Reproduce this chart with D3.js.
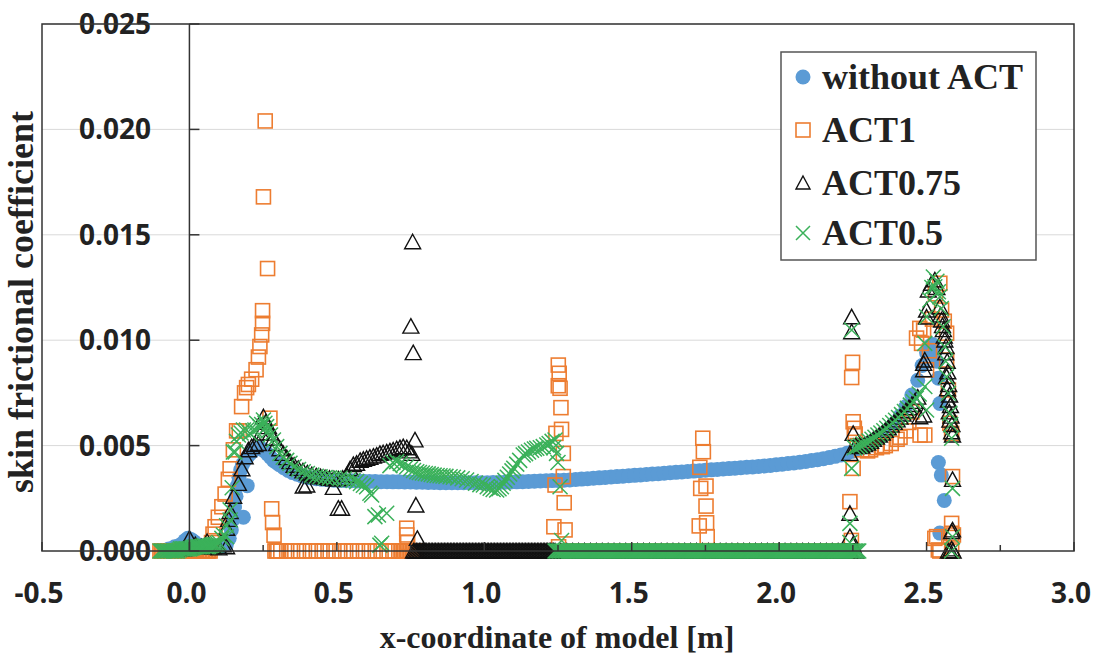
<!DOCTYPE html>
<html>
<head>
<meta charset="utf-8">
<script src="https://cdn.jsdelivr.net/npm/d3@7"></script>
<style>
  body { margin: 0; background: #fff; }
  .tick-label { font-family: 'Open Sans', sans-serif; font-weight: 700; font-size: 28px; fill: #222; }
  .axis-title { font-family: 'Liberation Serif', 'Times New Roman', serif; font-weight: 700; fill: #222; }
  .legend text { font-family: 'Liberation Serif', 'Times New Roman', serif; font-weight: 700; font-size: 36px; fill: #222; }
</style>
</head>
<body>
<div id="chart"></div>
<script>
// values: [x-coordinate (m), skin frictional coefficient x 1e-3]
// the *ZeroX lists hold the x positions where a series sits on 0
var seriesNames = ['without ACT', 'ACT1', 'ACT0.75', 'ACT0.5'];
var xTicks = [-0.5, 0.0, 0.5, 1.0, 1.5, 2.0, 2.5, 3.0];
var xMinorTicks = [0.25, 0.75, 1.25, 1.75, 2.25, 2.75];
var yTicks = [0, 0.005, 0.010, 0.015, 0.020, 0.025];

var noAct = [
  [-0.07,0.1],[-0.05,0.2],[-0.03,0.3],[-0.015,0.5],[-0.005,0.6],[0.005,0.55],[0.015,0.45],[0.03,0.3],
  [0.05,0.2],[0.07,0.15],[0.09,0.15],[0.11,0.2],[0.125,0.3],[0.135,0.6],[0.142,1.0],[0.148,1.5],
  [0.153,2.1],[0.158,2.6],[0.163,3.1],[0.168,3.5],[0.174,3.85],[0.18,4.1],[0.183,1.6],[0.196,3.1],
  [0.188,4.3],[0.196,4.45],[0.205,4.6],[0.215,4.75],[0.225,4.85],[0.235,4.9],[0.245,4.85],[0.255,4.75],
  [0.265,4.6],[0.275,4.45],[0.285,4.3],[0.295,4.2],[0.305,4.1],[0.32,3.95],[0.335,3.82],[0.35,3.72],
  [0.365,3.64],[0.38,3.57],[0.395,3.51],[0.41,3.47],[0.43,3.43],[0.45,3.4],[0.47,3.38],[0.49,3.36],
  [0.51,3.35],[0.53,3.34],[0.55,3.33],[0.57,3.32],[0.59,3.31],[0.61,3.3],[0.63,3.3],[0.65,3.29],
  [0.67,3.29],[0.69,3.28],[0.71,3.28],[0.73,3.27],[0.75,3.27],[0.77,3.26],[0.79,3.26],[0.81,3.25],
  [0.83,3.25],[0.85,3.24],[0.87,3.24],[0.89,3.24],[0.91,3.24],[0.93,3.24],[0.95,3.24],[0.97,3.24],
  [0.99,3.24],[1.01,3.24],[1.03,3.25],[1.05,3.25],[1.07,3.26],[1.09,3.27],[1.11,3.28],[1.13,3.29],
  [1.15,3.3],[1.17,3.31],[1.19,3.32],[1.21,3.33],[1.23,3.34],[1.25,3.35],[1.27,3.36],[1.29,3.37],
  [1.31,3.39],[1.33,3.41],[1.35,3.43],[1.37,3.45],[1.39,3.47],[1.41,3.49],[1.43,3.51],[1.45,3.53],
  [1.47,3.55],[1.49,3.57],[1.51,3.59],[1.53,3.61],[1.55,3.63],[1.57,3.65],[1.59,3.67],[1.61,3.69],
  [1.63,3.71],[1.65,3.73],[1.67,3.75],[1.69,3.77],[1.71,3.79],[1.73,3.81],[1.75,3.83],[1.77,3.85],
  [1.79,3.87],[1.81,3.89],[1.83,3.91],[1.85,3.93],[1.87,3.95],[1.89,3.97],[1.91,3.99],[1.93,4.01],
  [1.95,4.03],[1.97,4.06],[1.99,4.09],[2.01,4.12],[2.03,4.15],[2.05,4.18],[2.07,4.21],[2.09,4.25],
  [2.11,4.29],[2.13,4.33],[2.15,4.38],[2.17,4.43],[2.19,4.49],[2.21,4.56],[2.23,4.64],[2.25,4.73],
  [2.27,4.84],[2.29,4.97],[2.31,5.12],[2.33,5.3],[2.35,5.5],[2.37,5.75],[2.39,6.05],[2.41,6.4],
  [2.43,6.85],[2.45,7.4],[2.47,8.1],[2.485,8.8],[2.5,9.4],[2.51,9.7],[2.52,9.8],[2.53,9.5],
  [2.535,9.0],[2.54,8.2],[2.545,7.0],[2.54,4.2],[2.55,3.6],[2.56,2.4],[2.545,0.85]
];

var act1 = [
  [0.075,0.4],[0.08,0.8],[0.087,1.15],[0.098,1.6],[0.11,2.1],[0.121,2.7],[0.132,3.4],[0.138,3.9],
  [0.149,4.8],[0.16,5.7],[0.169,5.7],[0.177,6.85],[0.187,7.5],[0.194,7.75],[0.2,7.9],[0.211,8.15],
  [0.226,8.6],[0.234,9.2],[0.239,9.7],[0.245,10.25],[0.248,10.8],[0.248,11.4],[0.265,13.4],
  [0.251,16.8],[0.257,20.4],[0.273,6.3],[0.279,2.0],[0.282,1.35],[0.287,0.75],
  [0.737,1.08],[0.737,0.76],[0.74,0.4],
  [1.251,8.82],[1.254,8.43],[1.251,7.84],[1.257,7.72],[1.26,6.8],[1.262,5.77],[1.243,5.58],
  [1.268,4.63],[1.268,3.53],[1.24,3.13],[1.271,2.29],[1.236,1.15],[1.274,1.0],[1.252,0.2],
  [1.741,5.35],[1.743,4.71],[1.731,3.97],[1.752,3.08],[1.734,2.97],[1.752,2.13],[1.754,1.34],
  [1.729,1.19],[1.756,0.68],
  [2.249,8.95],[2.246,8.23],[2.251,6.13],[2.255,5.82],[2.258,5.55],[2.251,3.92],[2.24,2.34],[2.245,0.5],
  [2.265,5.0],[2.28,4.8],[2.3,4.75],[2.31,4.8],[2.33,4.9],[2.35,4.95],[2.36,5.0],[2.38,5.1],
  [2.4,5.3],[2.41,5.4],[2.43,5.7],[2.44,6.1],[2.45,6.6],
  [2.466,10.1],[2.477,10.56],[2.483,9.85],[2.49,10.48],[2.478,5.5],[2.494,5.5],[2.5,8.6],
  [2.51,9.5],[2.52,11.0],[2.53,12.2],[2.545,12.7],[2.551,11.43],[2.56,10.9],[2.568,10.33],
  [2.568,9.06],[2.574,7.64],[2.579,6.06],[2.585,5.58],[2.588,3.53],[2.585,1.31],[2.591,0.76],
  [2.585,0.84],[2.534,0.68],[2.528,0.6],[2.54,0.05]
];
var act1ZeroX = [
  -0.1,-0.095,-0.09,-0.085,-0.08,-0.075,-0.07,-0.065,-0.06,-0.055,-0.05,-0.045,-0.04,-0.035,
  -0.03,-0.025,-0.02,-0.015,-0.01,-0.005,0,0.005,0.01,0.015,0.02,0.025,0.03,0.035,0.04,0.045,
  0.05,0.055,0.06,0.065,0.07,
  0.29,0.295,0.3,0.31,0.33,0.35,0.37,0.39,0.41,0.43,0.45,0.47,0.49,0.51,0.53,0.55,0.57,0.59,
  0.61,0.63,0.65,0.67,0.69,0.71,0.72,0.725,0.73,0.735,0.74,0.745,0.75,0.755,0.76,0.765,0.77,
  1.28,1.32,1.36,1.4,1.44,1.48,1.52,1.56,1.6,1.64,1.68,1.72,1.76,1.8,1.84,1.88,1.92,1.96,
  2.0,2.04,2.08,2.12,2.16,2.2,2.24,2.545,2.585
];

var act075 = [
  [-0.02,0.1],[0.0,0.6],[0.02,0.3],[0.04,0.2],[0.06,0.45],[0.08,0.2],[0.1,0.15],[0.115,0.3],
  [0.126,0.2],[0.126,1.08],[0.133,1.5],[0.138,1.87],[0.15,2.6],[0.166,3.21],[0.178,3.9],[0.189,4.47],
  [0.2,4.8],[0.211,4.95],[0.222,5.05],[0.234,5.1],[0.243,5.6],[0.251,6.37],[0.258,6.1],[0.268,5.9],
  [0.275,5.6],[0.285,5.35],[0.296,5.1],[0.307,4.85],[0.318,4.63],[0.33,4.43],[0.341,4.24],[0.355,4.07],
  [0.369,3.92],[0.385,3.8],[0.4,3.7],[0.415,3.62],[0.43,3.56],[0.445,3.52],[0.46,3.48],[0.475,3.45],
  [0.49,3.43],[0.505,3.42],[0.52,3.45],[0.533,3.6],[0.545,3.9],[0.556,4.1],[0.567,4.16],[0.579,4.3],
  [0.59,4.35],[0.601,4.4],[0.612,4.45],[0.624,4.5],[0.635,4.55],[0.646,4.63],[0.657,4.66],[0.669,4.7],
  [0.68,4.75],[0.691,4.79],[0.703,4.85],[0.714,4.9],[0.725,4.95],[0.737,4.9],[0.745,4.75],[0.754,4.63],
  [0.386,3.08],[0.398,3.13],[0.488,3.02],[0.505,2.03],[0.516,2.03],[0.757,14.67],[0.751,10.67],
  [0.759,9.41],[0.765,5.27],[0.768,2.18],[0.773,0.6],
  [2.246,11.11],[2.246,10.4],[2.251,5.58],[2.24,4.63],[2.24,1.79],[2.24,0.68],[2.25,0.3],
  [2.26,5.0],[2.27,4.95],[2.28,4.98],[2.29,5.05],[2.3,5.12],[2.31,5.2],[2.32,5.3],[2.33,5.4],
  [2.34,5.5],[2.35,5.6],[2.36,5.72],[2.37,5.85],[2.38,5.98],[2.39,6.1],[2.4,6.22],[2.41,6.35],
  [2.42,6.5],[2.43,6.65],[2.44,6.8],[2.45,6.95],[2.46,7.1],[2.47,7.3],
  [2.477,6.37],[2.49,6.45],[2.49,8.6],[2.49,8.9],[2.494,9.06],[2.5,11.1],[2.5,11.43],[2.506,12.38],
  [2.517,12.7],[2.528,12.86],[2.535,12.5],[2.545,11.59],[2.548,11.2],[2.551,10.96],[2.554,10.7],
  [2.557,10.5],[2.56,10.2],[2.562,10.01],[2.565,9.4],[2.566,9.7],[2.568,8.27],[2.57,9.0],[2.571,7.7],
  [2.572,8.5],[2.574,7.16],[2.575,7.9],[2.577,6.6],[2.578,7.4],[2.579,6.21],[2.581,6.9],[2.583,6.4],
  [2.585,5.66],[2.586,6.0],[2.588,5.5],[2.588,3.4],[2.585,0.92],[2.588,1.0],[2.585,0.1]
];
var act075ZeroX = [
  0.76,0.765,0.77,0.775,0.78,0.785,0.79,0.795,
  0.8,0.805,0.81,0.815,0.82,0.825,0.83,0.835,0.84,0.845,0.85,0.855,0.86,0.865,0.87,0.875,0.88,0.885,0.89,0.895,
  0.9,0.905,0.91,0.915,0.92,0.925,0.93,0.935,0.94,0.945,0.95,0.955,0.96,0.965,0.97,0.975,0.98,0.985,0.99,0.995,
  1.0,1.005,1.01,1.015,1.02,1.025,1.03,1.035,1.04,1.045,1.05,1.055,1.06,1.065,1.07,1.075,1.08,1.085,1.09,1.095,
  1.1,1.105,1.11,1.115,1.12,1.125,1.13,1.135,1.14,1.145,1.15,1.155,1.16,1.165,1.17,1.175,1.18,1.185,1.19,1.195,
  1.2,1.205,1.21,1.215,1.22,1.225,1.23,1.235,1.24,
  1.26,1.28,1.3,1.32,1.34,1.36,1.38,1.4,1.42,1.44,1.46,1.48,1.5,1.52,1.54,1.56,1.58,1.6,1.62,1.64,
  1.66,1.68,1.7,1.72,1.74,1.76,1.78,1.8,1.82,1.84,1.86,1.88,1.9,1.92,1.94,1.96,1.98,2.0,2.02,2.04,
  2.06,2.08,2.1,2.12,2.14,2.16,2.18,2.2,2.22,2.24,2.26,2.574,2.58,2.59
];

var act05 = [
  [-0.035,0.05],[-0.03,0.1],[-0.025,0.1],[-0.02,0.1],[-0.015,0.1],[-0.01,0.1],[-0.005,0.1],[0.0,0.1],
  [0.005,0.12],[0.01,0.15],[0.015,0.18],[0.02,0.2],[0.025,0.2],[0.03,0.2],[0.035,0.2],[0.04,0.2],
  [0.045,0.22],[0.05,0.25],[0.055,0.22],[0.06,0.2],[0.065,0.22],[0.07,0.25],[0.075,0.28],[0.08,0.3],
  [0.085,0.3],[0.09,0.3],[0.095,0.35],[0.1,0.4],
  [0.11,0.6],[0.115,0.76],[0.126,0.68],[0.126,1.2],
  [0.138,1.47],[0.138,1.95],[0.145,3.0],[0.149,4.7],[0.155,4.7],[0.16,5.2],[0.166,5.5],[0.175,5.6],
  [0.183,5.74],[0.194,5.74],[0.205,5.58],[0.215,5.7],[0.222,5.74],[0.228,6.06],[0.239,5.9],[0.245,6.0],
  [0.251,6.21],[0.256,6.06],[0.262,5.9],[0.268,5.7],[0.275,5.5],[0.285,5.27],[0.296,4.95],[0.307,4.63],
  [0.318,4.45],[0.33,4.3],[0.341,4.16],[0.355,4.0],[0.37,3.87],[0.386,3.76],[0.4,3.68],[0.415,3.6],
  [0.43,3.55],[0.443,3.52],[0.46,3.49],[0.475,3.47],[0.49,3.46],[0.511,3.45],[0.525,3.42],[0.54,3.38],
  [0.555,3.34],[0.567,3.29],[0.58,3.2],[0.59,3.12],[0.601,3.05],[0.612,2.74],[0.618,2.66],[0.629,1.63],
  [0.641,1.71],[0.669,1.79],[0.646,0.28],[0.652,0.37],
  [0.68,4.05],[0.69,4.2],[0.703,4.24],[0.715,4.15],[0.725,4.08],[0.737,4.0],[0.75,3.9],[0.76,3.82],
  [0.771,3.76],[0.78,3.72],[0.79,3.7],[0.8,3.68],[0.81,3.66],[0.82,3.63],[0.83,3.6],[0.84,3.58],
  [0.85,3.57],[0.86,3.56],[0.87,3.54],[0.884,3.52],[0.895,3.5],[0.91,3.47],[0.925,3.43],[0.94,3.37],
  [0.955,3.3],[0.97,3.22],[0.985,3.15],[0.997,3.13],[1.01,3.05],[1.02,2.98],[1.03,2.92],[1.042,2.89],
  [1.05,2.95],[1.058,3.05],[1.064,3.21],[1.07,3.35],[1.078,3.5],[1.086,3.65],[1.094,3.8],[1.1,3.93],
  [1.11,4.12],[1.12,4.3],[1.132,4.55],[1.14,4.62],[1.15,4.7],[1.16,4.78],[1.17,4.84],[1.178,4.87],
  [1.19,4.9],[1.2,4.95],[1.212,5.03],[1.22,5.1],[1.23,5.2],[1.24,5.27],[1.235,4.9],[1.245,4.63],
  [1.25,4.2],[1.257,3.05],[1.262,0.5],
  [2.246,10.48],[2.246,3.92],[2.24,1.31],[2.24,0.4],
  [2.255,4.9],[2.265,4.95],[2.275,5.0],[2.285,5.08],[2.295,5.15],[2.305,5.22],[2.315,5.3],[2.325,5.4],
  [2.335,5.5],[2.345,5.6],[2.355,5.7],[2.365,5.82],[2.375,5.95],[2.385,6.08],[2.395,6.2],[2.405,6.33],
  [2.415,6.47],[2.425,6.62],[2.435,6.77],[2.445,6.92],[2.455,7.08],[2.465,7.25],[2.475,7.45],
  [2.494,7.8],[2.5,6.69],[2.494,9.85],[2.5,11.11],[2.511,11.91],[2.518,12.5],[2.523,13.0],[2.528,12.54],
  [2.535,12.8],[2.54,12.3],[2.545,12.06],[2.55,11.5],[2.556,10.64],[2.562,9.69],[2.565,9.0],[2.568,8.27],
  [2.574,7.48],[2.579,6.53],[2.582,6.0],[2.585,5.35],[2.588,2.97],[2.588,0.68]
];
var act05ZeroX = [
  -0.1,-0.095,-0.09,-0.085,-0.08,-0.075,-0.07,-0.065,-0.06,-0.055,-0.05,-0.045,-0.04,
  1.24,1.245,1.25,1.255,1.26,1.265,1.27,1.275,1.28,1.285,1.29,1.295,
  1.3,1.305,1.31,1.315,1.32,1.325,1.33,1.335,1.34,1.345,1.35,1.355,1.36,1.365,1.37,1.375,1.38,1.385,1.39,1.395,
  1.4,1.405,1.41,1.415,1.42,1.425,1.43,1.435,1.44,1.445,1.45,1.455,1.46,1.465,1.47,1.475,1.48,1.485,1.49,1.495,
  1.5,1.505,1.51,1.515,1.52,1.525,1.53,1.535,1.54,1.545,1.55,1.555,1.56,1.565,1.57,1.575,1.58,1.585,1.59,1.595,
  1.6,1.605,1.61,1.615,1.62,1.625,1.63,1.635,1.64,1.645,1.65,1.655,1.66,1.665,1.67,1.675,1.68,1.685,1.69,1.695,
  1.7,1.705,1.71,1.715,1.72,1.725,1.73,1.735,1.74,1.745,1.75,1.755,1.76,1.765,1.77,1.775,1.78,1.785,1.79,1.795,
  1.8,1.805,1.81,1.815,1.82,1.825,1.83,1.835,1.84,1.845,1.85,1.855,1.86,1.865,1.87,1.875,1.88,1.885,1.89,1.895,
  1.9,1.905,1.91,1.915,1.92,1.925,1.93,1.935,1.94,1.945,1.95,1.955,1.96,1.965,1.97,1.975,1.98,1.985,1.99,1.995,
  2.0,2.005,2.01,2.015,2.02,2.025,2.03,2.035,2.04,2.045,2.05,2.055,2.06,2.065,2.07,2.075,2.08,2.085,2.09,2.095,
  2.1,2.105,2.11,2.115,2.12,2.125,2.13,2.135,2.14,2.145,2.15,2.155,2.16,2.165,2.17,2.175,2.18,2.185,2.19,2.195,
  2.2,2.205,2.21,2.215,2.22,2.225,2.23,2.235,2.24,2.245,2.25,2.255,2.26,2.265,2.27,2.585
];

(function(d3) {
  'use strict';

  var width = 1095;
  var height = 657;
  var left = 42, right = 1074, top = 24, bottom = 551;
  var yUnit = 1e-3;

  var blue = '#5b9bd5';
  var orange = '#ed7d31';
  var green = '#3bb15a';
  var frame = '#333333';

  function withZeros(points, zeroX) {
    return points.concat(zeroX.map(function(v) { return [v, 0]; }));
  }

  var x = d3.scaleLinear().domain([-0.5, 3.0]).range([left, right]);
  var y = d3.scaleLinear().domain([0, 0.025]).range([bottom, top]);

  var svg = d3.select('#chart')
    .append('svg')
    .attr('width', width)
    .attr('height', height);

  // gridlines
  svg.append('g')
    .selectAll('line')
    .data(yTicks.slice(1))
    .enter()
    .append('line')
    .attr('x1', left)
    .attr('x2', right)
    .attr('y1', function(d) { return y(d); })
    .attr('y2', function(d) { return y(d); })
    .attr('stroke', '#d9d9d9')
    .attr('stroke-width', 1);

  // y tick labels sit left of the y axis (which crosses at x = 0)
  svg.append('g')
    .selectAll('text')
    .data(yTicks)
    .enter()
    .append('text')
    .attr('class', 'tick-label')
    .attr('x', 151)
    .attr('y', function(d) { return y(d); })
    .attr('dy', '0.36em')
    .attr('text-anchor', 'end')
    .text(function(d) { return d.toFixed(3); });

  svg.append('g')
    .selectAll('text')
    .data(xTicks)
    .enter()
    .append('text')
    .attr('class', 'tick-label')
    .attr('x', function(d) { return x(d) - 3; })
    .attr('y', 603)
    .attr('text-anchor', 'middle')
    .text(function(d) { return d.toFixed(1); });

  // markers
  var marks = svg.append('g');

  marks.append('g')
    .selectAll('circle')
    .data(noAct)
    .enter()
    .append('circle')
    .attr('cx', function(d) { return x(d[0]); })
    .attr('cy', function(d) { return y(d[1] * yUnit); })
    .attr('r', 7.5)
    .attr('fill', blue);

  marks.append('g')
    .selectAll('rect')
    .data(withZeros(act1, act1ZeroX))
    .enter()
    .append('rect')
    .attr('x', function(d) { return x(d[0]) - 7; })
    .attr('y', function(d) { return y(d[1] * yUnit) - 7; })
    .attr('width', 14)
    .attr('height', 14)
    .attr('fill', 'none')
    .attr('stroke', orange)
    .attr('stroke-width', 1.6);

  var triPath = 'M0,-7.5L8,7L-8,7Z';
  var crossPath = 'M-7.5,-7.5L7.5,7.5M-7.5,7.5L7.5,-7.5';

  marks.append('g')
    .selectAll('path')
    .data(withZeros(act075, act075ZeroX))
    .enter()
    .append('path')
    .attr('d', triPath)
    .attr('transform', function(d) { return 'translate(' + x(d[0]) + ',' + y(d[1] * yUnit) + ')'; })
    .attr('fill', 'none')
    .attr('stroke', '#111')
    .attr('stroke-width', 1.4);

  marks.append('g')
    .selectAll('path')
    .data(withZeros(act05, act05ZeroX))
    .enter()
    .append('path')
    .attr('d', crossPath)
    .attr('transform', function(d) { return 'translate(' + x(d[0]) + ',' + y(d[1] * yUnit) + ')'; })
    .attr('fill', 'none')
    .attr('stroke', green)
    .attr('stroke-width', 1.5);

  // frame and axes
  svg.append('rect')
    .attr('x', left)
    .attr('y', top)
    .attr('width', right - left)
    .attr('height', bottom - top)
    .attr('fill', 'none')
    .attr('stroke', frame)
    .attr('stroke-width', 1.5);

  svg.append('line')
    .attr('x1', x(0)).attr('x2', x(0))
    .attr('y1', top).attr('y2', bottom)
    .attr('stroke', frame)
    .attr('stroke-width', 1.5);

  svg.append('g')
    .selectAll('line')
    .data(yTicks)
    .enter()
    .append('line')
    .attr('x1', x(0)).attr('x2', x(0) + 10)
    .attr('y1', function(d) { return y(d); })
    .attr('y2', function(d) { return y(d); })
    .attr('stroke', frame)
    .attr('stroke-width', 1.5);

  svg.append('g')
    .selectAll('line')
    .data(xTicks.concat(xMinorTicks))
    .enter()
    .append('line')
    .attr('x1', function(d) { return x(d); })
    .attr('x2', function(d) { return x(d); })
    .attr('y1', bottom)
    .attr('y2', function(d) { return xMinorTicks.indexOf(d) >= 0 ? bottom - 6 : bottom - 9; })
    .attr('stroke', frame)
    .attr('stroke-width', 1.5);

  // axis titles
  svg.append('text')
    .attr('class', 'axis-title')
    .attr('x', 557)
    .attr('y', 648)
    .attr('text-anchor', 'middle')
    .style('font-size', '32px')
    .text('x-coordinate of model [m]');

  svg.append('text')
    .attr('class', 'axis-title')
    .attr('transform', 'translate(33,302) rotate(-90)')
    .attr('text-anchor', 'middle')
    .style('font-size', '36px')
    .text('skin frictional coefficient');

  // legend
  var legend = svg.append('g').attr('class', 'legend');

  legend.append('rect')
    .attr('x', 781)
    .attr('y', 52)
    .attr('width', 255)
    .attr('height', 208)
    .attr('fill', '#fff')
    .attr('stroke', '#555')
    .attr('stroke-width', 1.5);

  var rowY = [77, 130, 183, 233];
  var item = legend.selectAll('.item')
    .data(seriesNames)
    .enter()
    .append('g')
    .attr('class', 'item')
    .attr('transform', function(d, i) { return 'translate(803,' + rowY[i] + ')'; });

  item.each(function(d, i) {
    var g = d3.select(this);
    if (i === 0) {
      g.append('circle').attr('r', 7.5).attr('fill', blue);
    } else if (i === 1) {
      g.append('rect').attr('x', -7).attr('y', -7).attr('width', 14).attr('height', 14)
        .attr('fill', 'none').attr('stroke', orange).attr('stroke-width', 1.6);
    } else if (i === 2) {
      g.append('path').attr('d', 'M0,-7L7,6L-7,6Z').attr('fill', 'none')
        .attr('stroke', '#111').attr('stroke-width', 1.4);
    } else {
      g.append('path').attr('d', 'M-7,-7L7,7M-7,7L7,-7').attr('fill', 'none')
        .attr('stroke', green).attr('stroke-width', 1.5);
    }
  });

  item.append('text')
    .attr('x', 19)
    .attr('y', 12)
    .text(function(d) { return d; });

})(window.d3);
</script>
</body>
</html>
